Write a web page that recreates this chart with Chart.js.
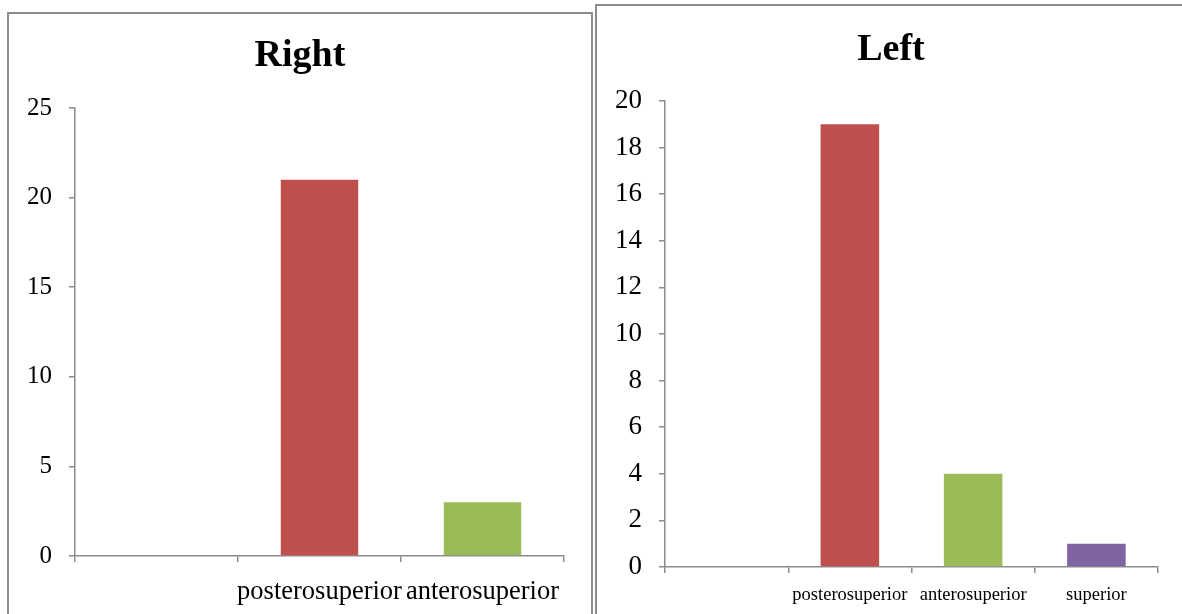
<!DOCTYPE html>
<html>
<head>
<meta charset="utf-8">
<script src="https://cdn.jsdelivr.net/npm/chart.js@4/dist/chart.umd.min.js"></script>
<style>
  html, body { margin: 0; padding: 0; background: #fff; }
  body { position: relative; width: 1182px; height: 614px; overflow: hidden; }
  .panel { position: absolute; border: 2px solid #8c8c8c; box-sizing: border-box; background: #fff; }
  canvas { position: absolute; top: 0; }
  .title { position: absolute; font-family: 'Liberation Serif', 'Times New Roman', serif; font-weight: bold;
           font-size: 38px; line-height: 38px; color: #000; text-align: center; width: 300px; white-space: nowrap; }
</style>
</head>
<body>
<div class="panel" style="left:7px; top:12px; width:586px; height:700px;"></div>
<div class="panel" style="left:595px; top:4px; width:700px; height:700px;"></div>
<canvas id="rightChart" width="590" height="614" style="left:0px;"></canvas>
<canvas id="leftChart" width="585" height="614" style="left:597px;"></canvas>
<div class="title" style="left:150px; top:34px;">Right</div>
<div class="title" style="left:741px; top:28px;">Left</div>
<script>
// Tear location counts, right and left shoulders
const rightCategories = ["", "posterosuperior", "anterosuperior"];
const rightValues = [null, 21, 3];
const rightTicks = [0, 5, 10, 15, 20, 25];

const leftCategories = ["", "posterosuperior", "anterosuperior", "superior"];
const leftValues = [null, 19, 4, 1];
const leftTicks = [0, 2, 4, 6, 8, 10, 12, 14, 16, 18, 20];

const barColors = ["#4F81BD", "#C0504D", "#9BBB59", "#8064A2"];
const axisColor = "#8c8c8c";
const serif = "'Liberation Serif', 'Times New Roman', serif";

function makeChart(id, opts) {
  const tickValues = opts.ticks;
  return new Chart(document.getElementById(id), {
    type: "bar",
    data: {
      labels: opts.categories,
      datasets: [{
        data: opts.values,
        backgroundColor: barColors.slice(0, opts.values.length),
        borderWidth: 0,
        categoryPercentage: 1,
        barPercentage: 0.475
      }]
    },
    options: {
      responsive: false,
      animation: false,
      devicePixelRatio: 1,
      layout: { padding: { left: 0, right: opts.padRight, top: opts.padTop, bottom: 0 } },
      plugins: {
        legend: { display: false },
        tooltip: { enabled: false },
        title: { display: false }
      },
      scales: {
        x: {
          grid: { display: true, drawOnChartArea: false, drawTicks: true, tickLength: 6, color: axisColor, lineWidth: 1.5, offset: true },
          border: { display: true, color: axisColor, width: 1.5 },
          ticks: {
            color: "#000",
            font: { family: serif, size: opts.xFont },
            padding: opts.xPad,
            maxRotation: 0, minRotation: 0, autoSkip: false
          },
          afterFit: s => { s.height = opts.xHeight; }
        },
        y: {
          min: tickValues[0],
          max: tickValues[tickValues.length - 1],
          afterBuildTicks: s => { s.ticks = tickValues.map(v => ({ value: v })); },
          grid: { display: true, drawOnChartArea: false, drawTicks: true, tickLength: 6, color: axisColor, lineWidth: 1.5 },
          border: { display: true, color: axisColor, width: 1.5 },
          ticks: {
            color: "#000",
            font: { family: serif, size: opts.yFont },
            padding: 17
          },
          afterFit: s => { s.width = opts.yWidth; }
        }
      }
    }
  });
}

makeChart("rightChart", {
  categories: rightCategories, values: rightValues, ticks: rightTicks,
  padRight: 26, padTop: 108, yWidth: 75, xHeight: 58,
  xFont: 26.5, yFont: 25, xPad: 14
});

makeChart("leftChart", {
  categories: leftCategories, values: leftValues, ticks: leftTicks,
  padRight: 24, padTop: 101, yWidth: 68, xHeight: 47,
  xFont: 18.5, yFont: 27, xPad: 11
});
</script>
</body>
</html>
